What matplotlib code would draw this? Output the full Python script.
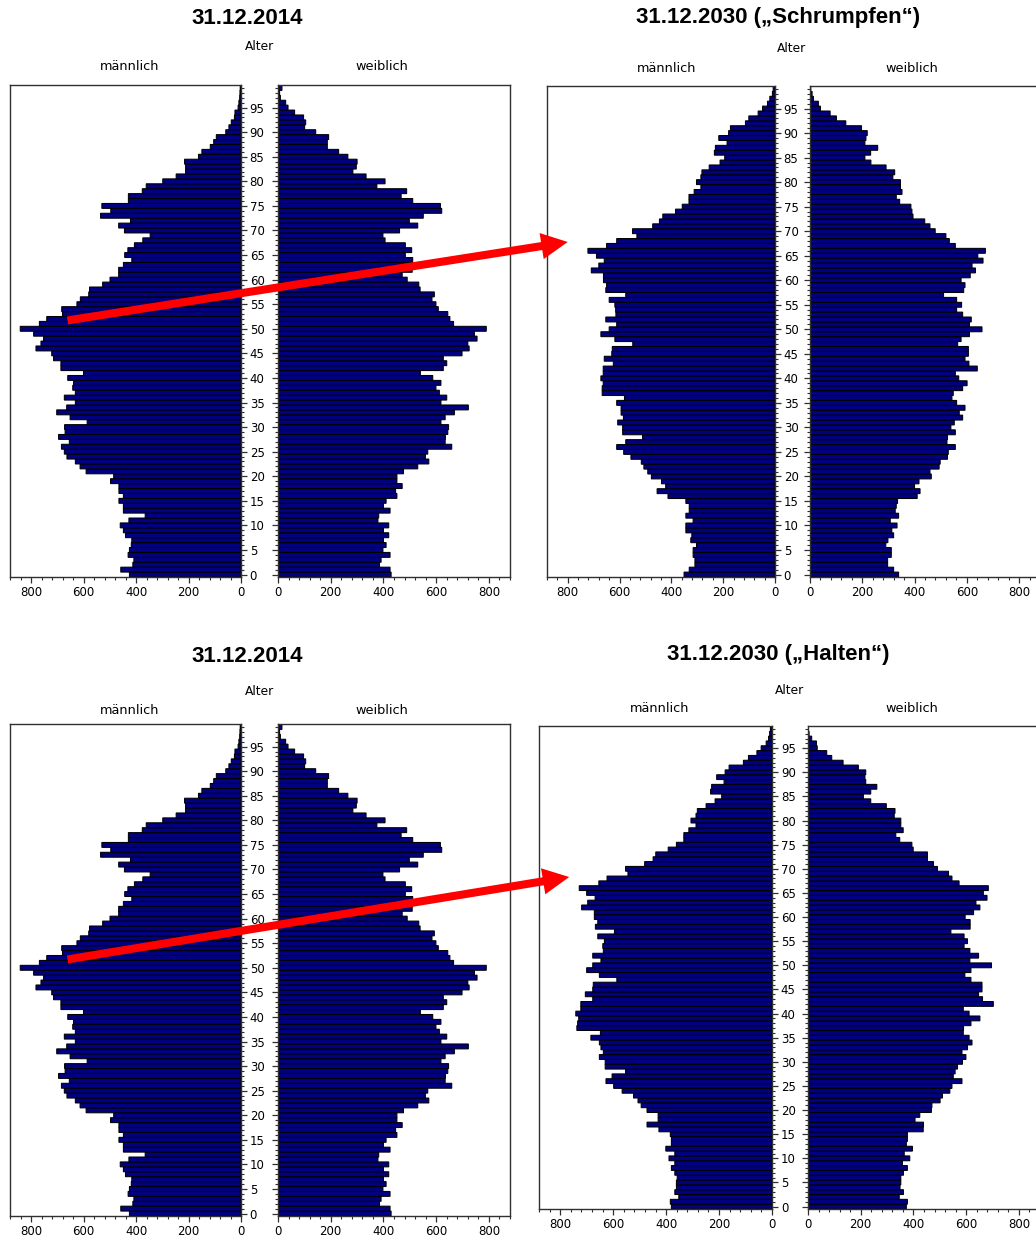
import matplotlib
matplotlib.use("Agg")
import matplotlib.pyplot as plt
from matplotlib.patches import ConnectionPatch
from matplotlib.ticker import MultipleLocator, FixedLocator

plt.rcParams['font.family'] = ['DejaVu Sans']

# ---------------- data ----------------
ages = list(range(100))

male_2014 = [425, 458, 412, 408, 430, 425, 418, 416, 440, 448,
             460, 427, 365, 448, 448, 465, 448, 465, 465, 497,
             485, 590, 613, 631, 663, 673, 684, 654, 695, 670,
             672, 586, 651, 702, 664, 631, 673, 631, 641, 638,
             660, 600, 686, 686, 714, 721, 781, 762, 752, 790,
             841, 768, 740, 680, 683, 625, 612, 580, 577, 527,
             499, 466, 466, 448, 416, 443, 431, 406, 374, 346,
             444, 466, 421, 535, 496, 530, 429, 429, 376, 361,
             298, 247, 211, 211, 215, 162, 149, 117, 104, 94,
             58, 46, 37, 25, 23, 11, 8, 5, 4, 3]

female_2014 = [429, 425, 385, 391, 425, 398, 410, 400, 420, 400,
               420, 379, 382, 425, 400, 410, 451, 446, 471, 451,
               451, 476, 530, 572, 559, 568, 659, 634, 635, 644,
               647, 618, 634, 669, 722, 618, 640, 612, 599, 618,
               587, 540, 627, 640, 627, 698, 725, 720, 755, 745,
               790, 666, 652, 644, 608, 599, 584, 593, 539, 534,
               490, 471, 509, 511, 511, 483, 507, 483, 406, 398,
               461, 530, 498, 551, 621, 616, 511, 467, 488, 375,
               406, 334, 284, 297, 300, 265, 230, 187, 187, 192,
               143, 101, 105, 97, 63, 38, 29, 9, 6, 15]

male_2030_schrumpfen = [351, 331, 309, 309, 316, 316, 303, 325, 321, 344,
                        344, 316, 344, 331, 331, 344, 413, 455, 422, 438,
                        477, 491, 506, 516, 556, 584, 611, 576, 511, 588,
                        588, 607, 585, 594, 594, 611, 581, 667, 667, 663,
                        672, 663, 663, 624, 659, 630, 628, 549, 618, 672,
                        640, 611, 653, 614, 615, 618, 640, 576, 653, 650,
                        662, 662, 709, 680, 659, 689, 722, 650, 611, 533,
                        550, 472, 446, 433, 384, 358, 332, 332, 312, 286,
                        303, 286, 282, 254, 212, 194, 234, 230, 185, 217,
                        179, 172, 114, 101, 65, 48, 29, 20, 10, 7]

female_2030_schrumpfen = [339, 320, 297, 297, 311, 311, 290, 298, 320, 313,
                          333, 307, 339, 326, 330, 335, 410, 421, 400, 417,
                          464, 459, 494, 498, 526, 529, 556, 524, 526, 556,
                          539, 552, 584, 571, 593, 561, 543, 548, 584, 601,
                          569, 556, 640, 608, 593, 606, 606, 565, 578, 610,
                          658, 610, 617, 584, 561, 580, 561, 511, 588, 593,
                          578, 613, 633, 620, 662, 642, 671, 556, 533, 520,
                          479, 459, 439, 394, 390, 386, 343, 330, 352, 346,
                          346, 317, 324, 291, 233, 210, 232, 259, 210, 214,
                          219, 197, 137, 101, 77, 40, 32, 13, 8, 3]

male_2030_halten = [380, 384, 352, 367, 361, 361, 358, 367, 380, 367,
                    389, 367, 401, 380, 380, 384, 427, 472, 430, 430,
                    472, 494, 506, 523, 566, 598, 627, 604, 553, 630,
                    630, 652, 637, 646, 652, 684, 648, 737, 734, 730,
                    741, 722, 722, 677, 705, 677, 675, 586, 652, 700,
                    677, 646, 677, 637, 639, 633, 658, 595, 667, 658,
                    671, 671, 719, 696, 668, 700, 728, 654, 623, 544,
                    553, 481, 449, 439, 392, 361, 333, 333, 314, 287,
                    306, 287, 282, 249, 215, 190, 232, 228, 181, 209,
                    177, 162, 108, 89, 57, 41, 22, 13, 9, 6]

female_2030_halten = [373, 377, 346, 362, 349, 352, 352, 362, 377, 358,
                      386, 365, 396, 373, 377, 377, 437, 438, 406, 424,
                      468, 470, 501, 510, 538, 546, 584, 551, 558, 567,
                      586, 599, 584, 605, 622, 611, 589, 590, 618, 652,
                      611, 589, 703, 662, 647, 660, 660, 618, 595, 618,
                      696, 614, 647, 614, 592, 605, 592, 542, 615, 615,
                      596, 628, 652, 637, 679, 665, 684, 573, 546, 533,
                      491, 476, 453, 453, 399, 394, 348, 333, 361, 352,
                      352, 327, 330, 297, 238, 210, 238, 261, 219, 216,
                      219, 191, 133, 90, 71, 35, 32, 14, 4, 1]

x_ticks = [0, 200, 400, 600, 800]
titles = ["31.12.2014", "31.12.2030 (\u201eSchrumpfen\u201c)",
          "31.12.2014", "31.12.2030 (\u201eHalten\u201c)"]

# ---------------- figure ----------------
W, H = 1036, 1236
fig = plt.figure(figsize=(W / 100, H / 100), dpi=100)
NAVY = '#000080'
FRAME = '#303030'


def px_axes(x0, y0, x1, y1):
    return fig.add_axes([x0 / W, 1 - y1 / H, (x1 - x0) / W, (y1 - y0) / H])


def draw_panel(ax, values, side):
    bars = ax.barh(ages, values, height=1.0, color=NAVY, edgecolor='black',
                   linewidth=0.75)
    for b in bars:
        b.set_snap(False)
    ax.set_ylim(-0.5, 99.6)
    if side == 'male':
        ax.set_xlim(880, 0)
        ax.tick_params(axis='y', which='both', left=False, labelleft=False,
                       right=True, labelright=True)
    else:
        ax.set_xlim(0, 880)
        ax.tick_params(axis='y', which='both', left=True, labelleft=False,
                       right=False)
    ax.xaxis.set_major_locator(FixedLocator(x_ticks))
    ax.xaxis.set_minor_locator(MultipleLocator(40))
    ax.yaxis.set_major_locator(MultipleLocator(5))
    ax.yaxis.set_minor_locator(MultipleLocator(1))
    ax.tick_params(axis='both', which='major', direction='out', length=4.5,
                   width=0.9, labelsize=8.5, pad=1.8, color=FRAME)
    ax.tick_params(axis='both', which='minor', direction='out', length=2.5,
                   width=0.8, color=FRAME)
    for s in ax.spines.values():
        s.set_linewidth(1.0)
        s.set_color(FRAME)


def text_px(x, y, s, **kw):
    fig.text(x / W, 1 - y / H, s, ha='center', va='center', **kw)


pyramids = [
    dict(male=male_2014, female=female_2014,
         mbox=(10, 85, 241, 577), fbox=(278, 85, 510, 577),
         title=(247, 18), alter=(260, 46), mlab=(130, 67), flab=(382, 67)),
    dict(male=male_2030_schrumpfen, female=female_2030_schrumpfen,
         mbox=(547, 86, 775, 577), fbox=(810, 86, 1040, 577),
         title=(778, 18), alter=(792, 48), mlab=(667, 68), flab=(912, 68)),
    dict(male=male_2014, female=female_2014,
         mbox=(10, 724, 241, 1216), fbox=(278, 724, 510, 1216),
         title=(247, 657), alter=(260, 691), mlab=(130, 711), flab=(382, 711)),
    dict(male=male_2030_halten, female=female_2030_halten,
         mbox=(539, 726, 772, 1209), fbox=(808, 726, 1040, 1209),
         title=(778, 655), alter=(790, 690), mlab=(660, 708), flab=(912, 708)),
]

male_axes = []
for p, title in zip(pyramids, titles):
    axm = px_axes(*p['mbox'])
    axf = px_axes(*p['fbox'])
    draw_panel(axm, p['male'], 'male')
    draw_panel(axf, p['female'], 'female')
    male_axes.append(axm)
    text_px(*p['title'], title, family=['Liberation Sans', 'DejaVu Sans'],
            fontweight='bold', fontsize=16)
    text_px(*p['alter'], "Alter", fontsize=8.8)
    text_px(*p['mlab'], "m\u00e4nnlich", fontsize=9.3)
    text_px(*p['flab'], "weiblich", fontsize=9.3)

# red arrows: cohort aged ~52 in 2014 -> aged ~68 in 2030
arrow_links = [(0, 1, (661, 51.7), (800, 67.8)),
               (2, 3, (661, 51.7), (766, 68.3))]
for a, b, start, end in arrow_links:
    con = ConnectionPatch(xyA=start, coordsA=male_axes[a].transData,
                          xyB=end, coordsB=male_axes[b].transData,
                          arrowstyle="simple,head_length=0.95,head_width=0.95,tail_width=0.29",
                          mutation_scale=20, color='#ff0000', linewidth=0,
                          shrinkA=0, shrinkB=0, zorder=10)
    con.set_clip_on(False)
    fig.add_artist(con)

fig.savefig("out.png", dpi=100)
